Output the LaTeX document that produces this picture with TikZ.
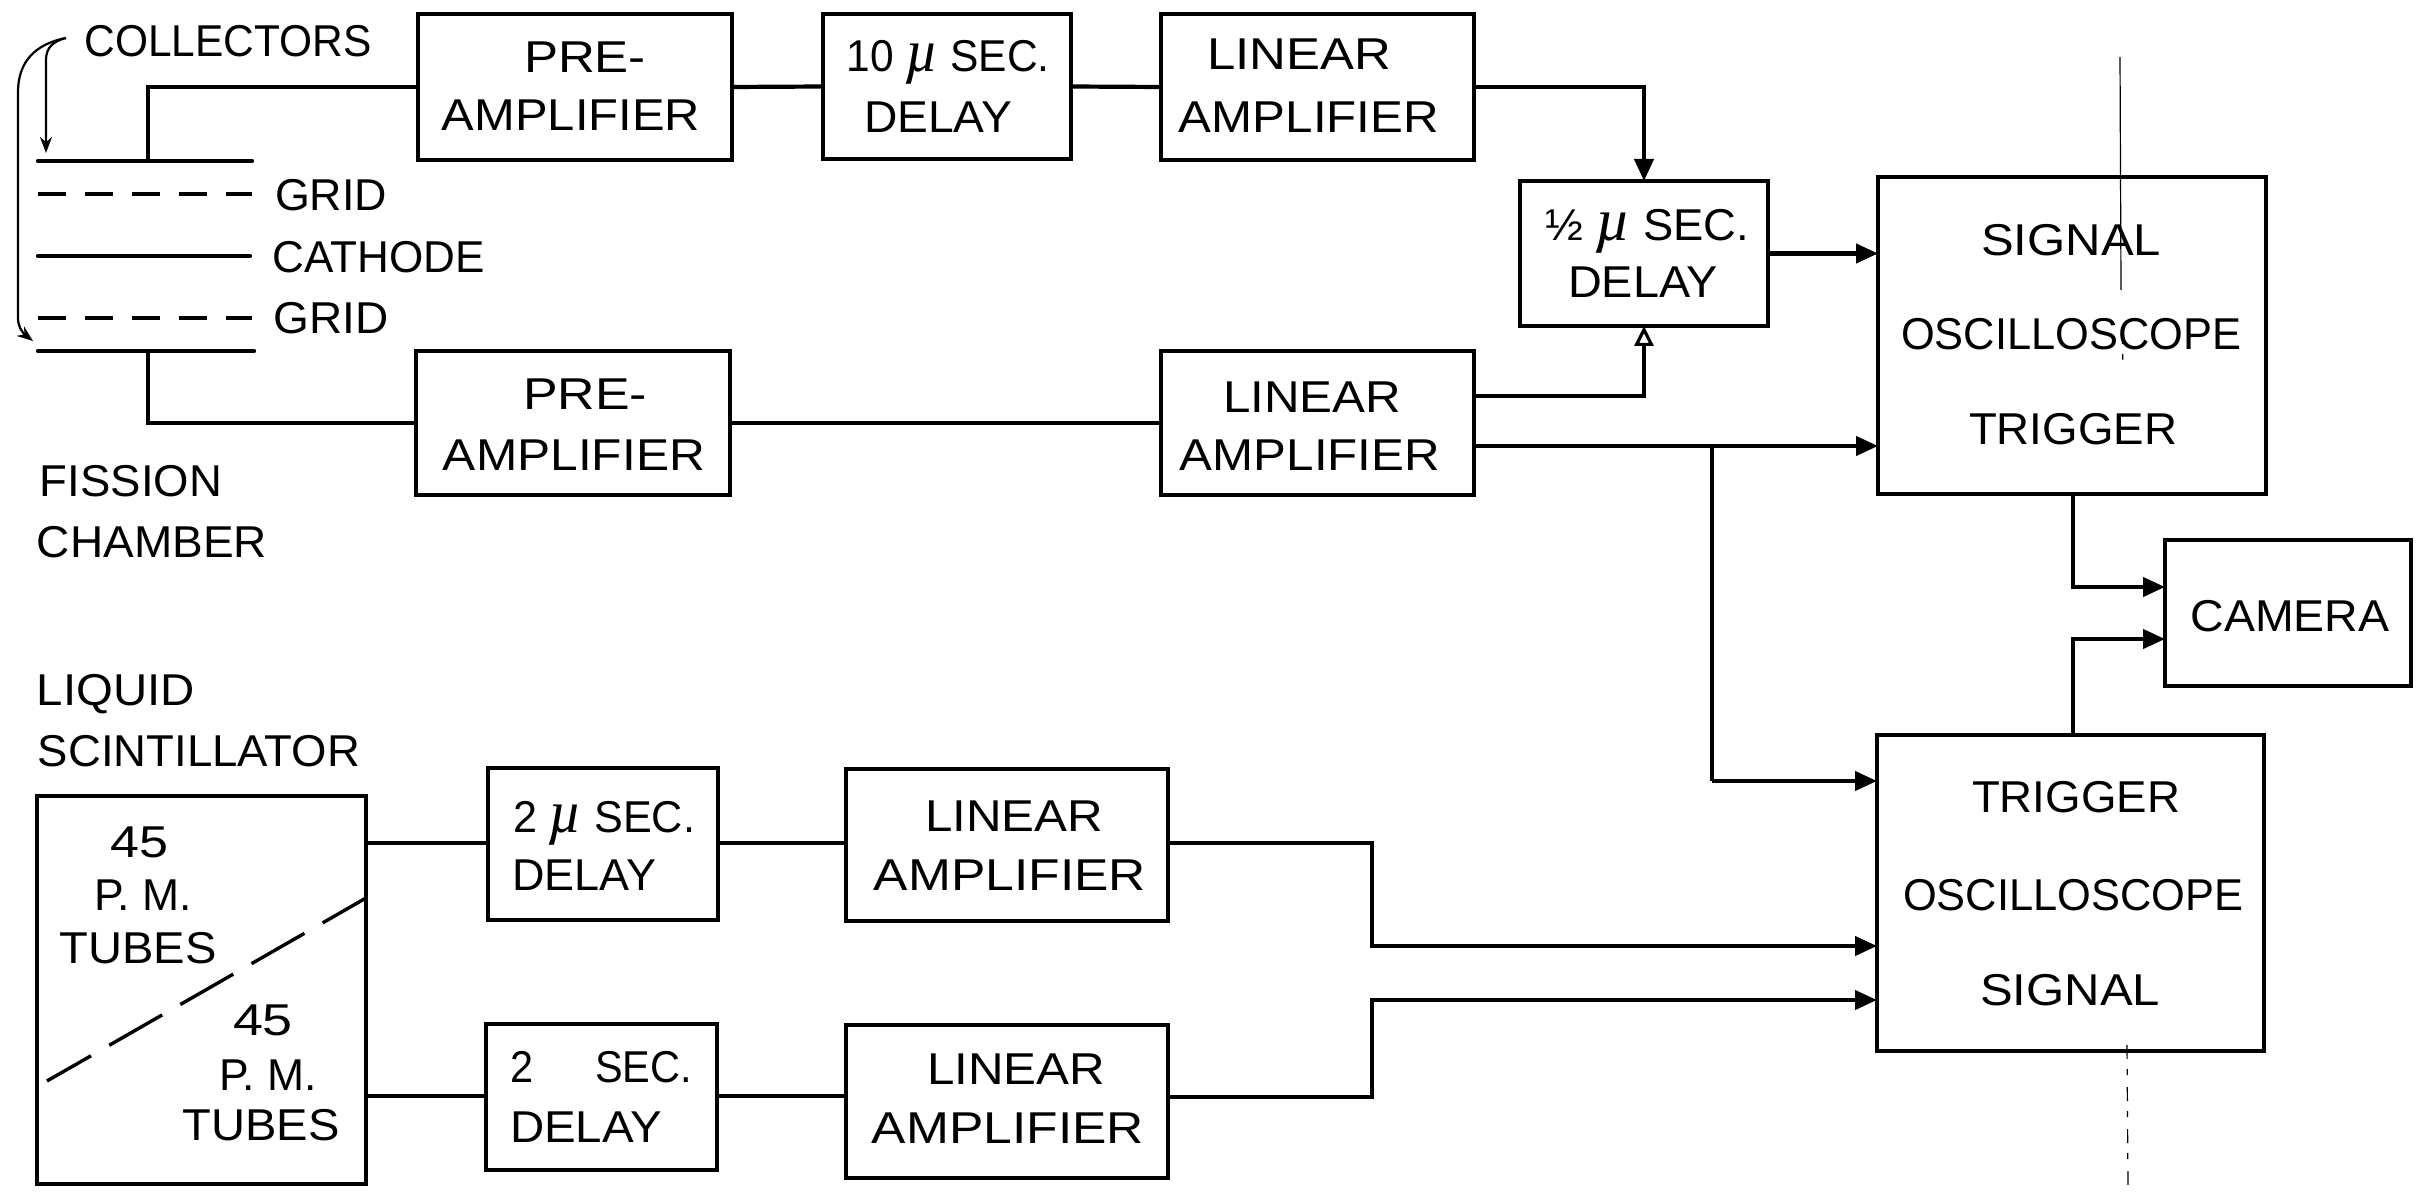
\documentclass[tikz,border=0pt]{standalone}
\usepackage{fontspec}
\setmainfont{Liberation Sans}
\newfontfamily\mufont{Liberation Serif}
\usetikzlibrary{arrows.meta,calc}
\tikzset{
  x=0.5pt,y=-0.5pt,
  box/.style={draw=black,line width=1.6pt,inner sep=0pt,outer sep=0pt,fill=none,line join=miter},
  lbl/.style={inner sep=0pt,outer sep=0pt,anchor=base,font=\fontsize{22.3pt}{26pt}\selectfont,text=black},
  conn/.style={draw=black,line width=2.1pt,line join=miter},
  into/.style={conn,-{Triangle[length=11pt,width=9.5pt]}},
  openinto/.style={conn,-{Triangle[open,length=10pt,width=9.5pt,line width=1.6pt]}},
  electrode/.style={draw=black,line width=2.2pt,line cap=round},
  griddash/.style={electrode,dash pattern=on 14pt off 9.5pt,line cap=butt},
  partition/.style={draw=black,line width=1.7pt,dash pattern=on 25pt off 10.5pt on 30.5pt off 10.5pt on 30.5pt off 10.5pt on 30.5pt off 10.5pt on 30.5pt off 10pt},
  pointer/.style={draw=black,line width=1.1pt,-{Stealth[length=8pt,width=6pt]}},
  scratch/.style={draw=black,line width=0.6pt},
  scratchbroken/.style={draw=black,line width=0.6pt,dash pattern=on 7pt off 5pt on 3pt off 6pt}
}
% box: name, x0, y0, x1, y1
\newcommand\bx[5]{\node[box,minimum width={(#4-#2)*0.5pt},minimum height={(#5-#3)*0.5pt}] (#1) at ({(#2+#4)/2},{(#3+#5)/2}) {};}
% label: name, centre x, centre y of caps, width in px, text
\newcommand\lab[5]{\node[lbl] (#1) at (#2,{#3+16}) {\resizebox{\dimexpr#4pt/2\relax}{\height}{#5}};}
\newcommand\mumark{{\mufont\itshape\fontsize{30pt}{30pt}\selectfont µ}}
\begin{document}
\begin{tikzpicture}
\useasboundingbox (0,0) rectangle (2420,1192);
\fill[white] (0,0) rectangle (2420,1192);

% scan fold mark
\coordinate (sc1) at (2120,57);
\coordinate (sc2) at (2121,290);
\coordinate (sc3) at (2122,330);
\coordinate (sc4) at (2123,365);
\coordinate (sc5) at (2127,1045);
\coordinate (sc6) at (2128,1190);
\draw[scratch] (sc1) -- (sc2);
\draw[scratchbroken] (sc3) -- (sc4);
\draw[scratchbroken] (sc5) -- (sc6);

% boxes
\bx{pre1}{418}{14}{732}{160}
\bx{d10}{823}{14}{1071}{159}
\bx{amp1}{1161}{14}{1474}{160}
\bx{dh}{1520}{181}{1768}{326}
\bx{pre2}{416}{351}{730}{495}
\bx{amp2}{1161}{351}{1474}{495}
\bx{sig}{1878}{177}{2266}{494}
\bx{trg}{1877}{735}{2264}{1051}
\bx{cam}{2165}{540}{2411}{686}
\bx{scn}{37}{796}{366}{1184}
\bx{d2a}{488}{768}{718}{920}
\bx{d2b}{486}{1024}{717}{1170}
\bx{amp3}{846}{769}{1168}{921}
\bx{amp4}{846}{1025}{1168}{1178}

% fission chamber electrodes
\coordinate (c1a) at (38,161); \coordinate (c1b) at (252,161);
\coordinate (g1a) at (38,194); \coordinate (g1b) at (252,194);
\coordinate (kaa) at (38,256); \coordinate (kab) at (250,256);
\coordinate (g2a) at (38,318); \coordinate (g2b) at (252,318);
\coordinate (c2a) at (38,351); \coordinate (c2b) at (254,351);
\coordinate (c1t) at (148,161); \coordinate (c2t) at (148,351);
\draw[electrode] (c1a) -- (c1b);
\draw[griddash] (g1a) -- (g1b);
\draw[electrode] (kaa) -- (kab);
\draw[griddash] (g2a) -- (g2b);
\draw[electrode] (c2a) -- (c2b);

% collector pointers
\coordinate (cp0) at (66,38);
\coordinate (cp1) at (46,153);
\coordinate (cp2) at (33,341);
\draw[pointer] (cp0) .. controls (54,41) and (46,47) .. (46,60) -- (cp1);
\draw[pointer] (cp0) .. controls (35,44) and (18,62) .. (18,92) -- (18,318) .. controls (18,328) and (24,334) .. (cp2);

% connectors
\draw[conn] (c1t) |- (pre1.west);
\draw[conn] (c2t) |- (pre2.west);
\draw[conn] (pre1.east) -- (d10.west);
\draw[conn] (d10.east) -- (amp1.west);
\draw[conn] (pre2.east) -- (amp2.west);
\draw[into] (amp1.east) -| (dh.north);
\coordinate (a2o1) at (1474,396);
\coordinate (a2o2) at (1474,446);
\coordinate (sgi2) at (1878,446);
\coordinate (tri1) at (1877,781);
\coordinate (brn) at (1712,446);
\coordinate (brn2) at (1712,781);
\draw[openinto] (a2o1) -| (dh.south);
\draw[into] (dh.east) -- (dh.east -| sig.west);
\draw[into] (a2o2) -- (sgi2);
\draw[conn] (brn) -- (brn2);
\draw[into] (brn2) -- (tri1);
\coordinate (cmi1) at (2165,587);
\coordinate (cmi2) at (2165,639);
\coordinate (sgo) at (2073,494);
\coordinate (tgo) at (2073,735);
\draw[into] (sgo) |- (cmi1);
\draw[into] (tgo) |- (cmi2);
\coordinate (so1) at (366,843);
\coordinate (so2) at (366,1096);
\draw[conn] (so1) -- (d2a.west |- so1);
\draw[conn] (so2) -- (d2b.west |- so2);
\draw[conn] (d2a.east |- so1) -- (amp3.west |- so1);
\draw[conn] (d2b.east |- so2) -- (amp4.west |- so2);
\coordinate (a3o) at (1168,843);
\coordinate (a4o) at (1168,1097);
\coordinate (tri2) at (1877,946);
\coordinate (tri3) at (1877,1000);
\draw[into] (a3o) -- (1372,843) -- (1372,946) -- (tri2);
\draw[into] (a4o) -- (1372,1097) -- (1372,1000) -- (tri3);

% scintillator partition
\coordinate (pa) at (366,898);
\coordinate (pb) at (47,1081);
\draw[partition] (pa) -- (pb);

% texts
\lab{tcoll}{228}{41}{287}{COLLECTORS}
\lab{tg1}{331}{195}{112}{GRID}
\lab{tk}{379}{257}{212}{CATHODE}
\lab{tg2}{331}{318}{115}{GRID}
\lab{tf1}{131}{480}{182}{FISSION}
\lab{tf2}{152}{541}{230}{CHAMBER}
\lab{tp1a}{585}{57}{122}{PRE-}
\lab{tp1b}{571}{115}{258}{AMPLIFIER}
\lab{tp2a}{585}{394}{124}{PRE-}
\lab{tp2b}{574}{455}{262}{AMPLIFIER}
\lab{td1a}{948}{56}{203}{10 \mumark\ SEC.}
\lab{td1b}{938}{117}{148}{DELAY}
\lab{tl1a}{1299}{54}{184}{LINEAR}
\lab{tl1b}{1309}{117}{260}{AMPLIFIER}
\lab{tl2a}{1312}{397}{178}{LINEAR}
\lab{tl2b}{1310}{455}{260}{AMPLIFIER}
\lab{tha}{1647}{225}{204}{½ \mumark\ SEC.}
\lab{thb}{1643}{282}{150}{DELAY}
\lab{tsa}{2071}{240}{180}{SIGNAL}
\lab{tsb}{2071}{334}{340}{OSCILLOSCOPE}
\lab{tsc}{2073}{429}{208}{TRIGGER}
\lab{ttra}{2076}{796}{208}{TRIGGER}
\lab{ttrb}{2073}{894}{340}{OSCILLOSCOPE}
\lab{ttrc}{2070}{989}{180}{SIGNAL}
\lab{tcam}{2290}{615}{199}{CAMERA}
\lab{tlq}{116}{689}{158}{LIQUID}
\lab{tsc1}{199}{750}{322}{SCINTILLATOR}
\lab{tn1a}{140}{841}{58}{45}
\lab{tn1b}{143}{894}{98}{P. M.}
\lab{tn1c}{138}{947}{157}{TUBES}
\lab{tn2a}{263}{1019}{60}{45}
\lab{tn2b}{268}{1074}{98}{P. M.}
\lab{tn2c}{261}{1124}{157}{TUBES}
\lab{t2aa}{604}{816}{182}{2 \mumark\ SEC.}
\lab{t2ab}{584}{874}{144}{DELAY}
\lab{t2ba}{601}{1066}{182}{2\hspace{1.5em}SEC.}
\lab{t2bb}{586}{1126}{152}{DELAY}
\lab{tl3a}{1014}{815}{178}{LINEAR}
\lab{tl3b}{1010}{874}{272}{AMPLIFIER}
\lab{tl4a}{1016}{1068}{178}{LINEAR}
\lab{tl4b}{1008}{1127}{272}{AMPLIFIER}
\end{tikzpicture}
\end{document}
